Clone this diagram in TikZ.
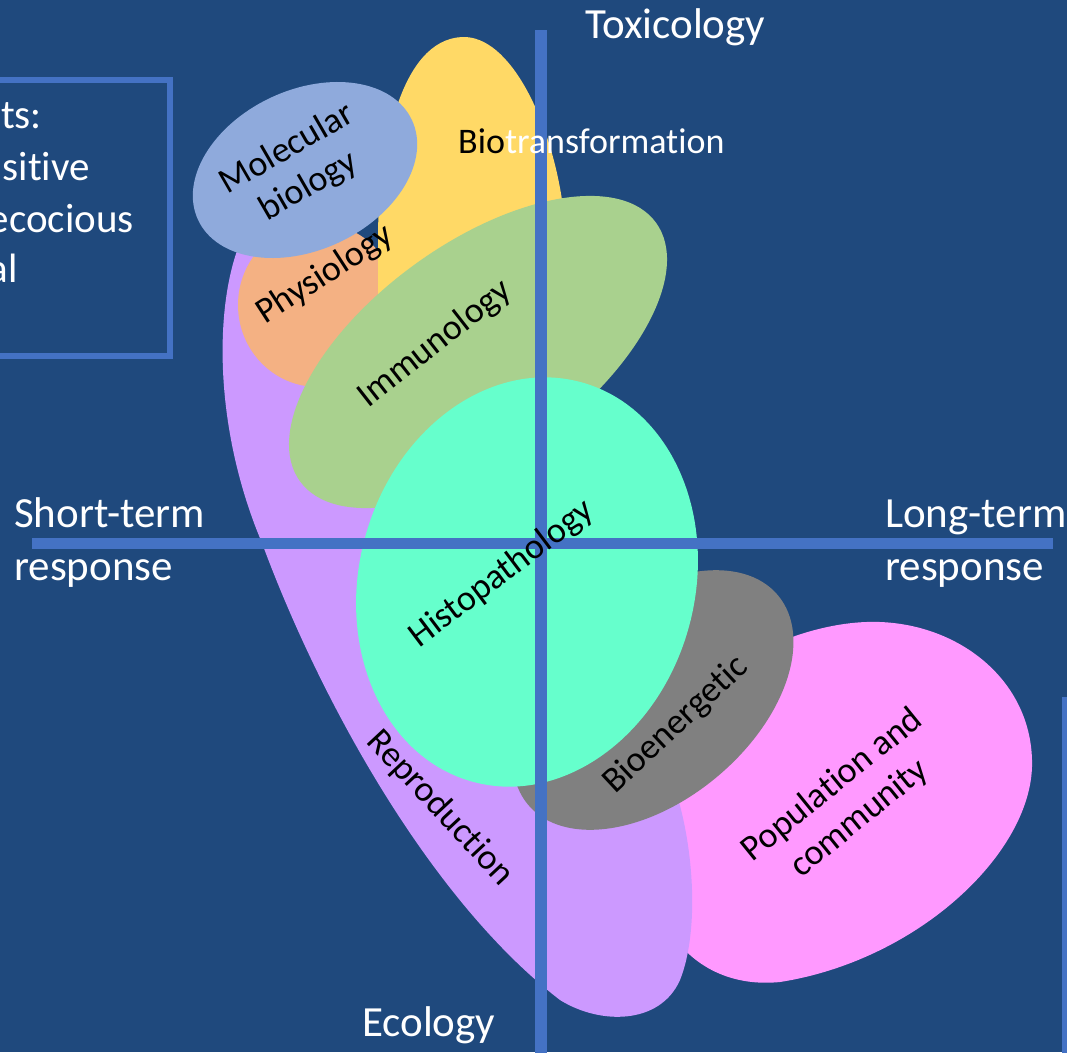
\documentclass[tikz,border=0pt]{standalone}
\usepackage{fontspec}
\setmainfont{Carlito}[Ligatures=CommonOff]
\definecolor{bg}{HTML}{1F497D}
\definecolor{axisblue}{HTML}{4472C4}
\definecolor{reprofill}{HTML}{CC99FF}
\definecolor{physfill}{HTML}{F4B183}
\definecolor{biotfill}{HTML}{FFD966}
\definecolor{molfill}{HTML}{8FAADC}
\definecolor{immfill}{HTML}{A9D18E}
\definecolor{histfill}{HTML}{66FFCC}
\definecolor{bioefill}{HTML}{808080}
\definecolor{popfill}{HTML}{FF99FF}
\begin{document}
\begin{tikzpicture}[x=1pt,y=-1pt,
  axisline/.style={draw=axisblue, line width=11.5pt},
  framebox/.style={draw=axisblue, line width=6pt},
  lbl/.style={font=\fontsize{36}{43}\selectfont, text=black, inner sep=0pt, align=center},
  axlbl/.style={font=\fontsize{43}{53}\selectfont, text=white, inner sep=0pt, anchor=base west},
  boxlbl/.style={font=\fontsize{41}{52}\selectfont, text=white, inner sep=0pt, anchor=base east},
]
\useasboundingbox (0,0) rectangle (1067,1052);
\fill[bg] (0,0) rectangle (1067,1052);
\begin{scope}
\clip (0,0) rectangle (1067,1052);

% side panels
\draw[framebox] (-60,80) rectangle (170,356);
\node[boxlbl] (bx1) at (42,128) {ts:};
\node[boxlbl] (bx2) at (90,180) {sitive};
\node[boxlbl] (bx3) at (134,232) {ecocious};
\node[boxlbl] (bx4) at (18,282) {al};
\draw[framebox] (1065,700) rectangle (1300,1120);

% population and community (lowest layer)
\fill[popfill] (700,690) .. controls (760,640) and (830,620) .. (880,622)
  .. controls (960,625) and (1030,680) .. (1032,760)
  .. controls (1035,850) and (920,960) .. (780,982)
  .. controls (700,990) and (650,930) .. (650,860)
  .. controls (650,780) and (670,720) .. (700,690) -- cycle;
% reproduction
\fill[reprofill] (245,232) .. controls (215,290) and (210,420) .. (262,543)
  .. controls (320,700) and (430,900) .. (560,1000)
  .. controls (600,1025) and (660,1025) .. (680,980)
  .. controls (700,930) and (694,840) .. (672,780)
  .. controls (600,600) and (420,330) .. (300,240)
  .. controls (280,220) and (260,215) .. (245,232) -- cycle;
% physiology
\fill[physfill] (318,305) ellipse (80 and 82);
% biotransformation
\fill[biotfill] (378,300) -- (378,230) .. controls (380,150) and (400,40) .. (462,37)
  .. controls (510,35) and (550,120) .. (562,200)
  .. controls (575,280) and (520,330) .. (450,330)
  .. controls (400,330) and (378,320) .. (378,300) -- cycle;
% molecular biology
\fill[molfill, rotate around={25:(305,170)}] (305,170) ellipse (118 and 80);
% immunology
\fill[immfill, rotate around={36:(478,352)}] (478,352) ellipse (220 and 108);
% bioenergetic
\fill[bioefill, rotate around={40:(653,700)}] (653,700) ellipse (163 and 100);
% histopathology
\fill[histfill, rotate around={-15:(527,582)}] (527,582) ellipse (168 and 207);

% axes
\coordinate (vtop) at (541,30);
\coordinate (vbot) at (541,1060);
\coordinate (hleft) at (32,543.5);
\coordinate (hright) at (1053,543.5);
\draw[axisline] (vtop) -- (vbot);
\draw[axisline] (hleft) -- (hright);

% axis labels
\node[axlbl] (tox) at (585,38) {Toxicology};
\node[axlbl] (eco) at (362,1036) {Ecology};
\node[axlbl] (st1) at (14,527) {Short-term};
\node[axlbl] (st2) at (14,580) {response};
\node[axlbl] (lt1) at (885,527) {Long-term};
\node[axlbl] (lt2) at (885,580) {response};

% region labels
\node[lbl, anchor=base west] (biot) at (458,153) {Bio\textcolor{white}{transformation}};
\node[lbl, rotate=30] (mol) at (298,168) {Molecular\\biology};
\node[lbl, rotate=33] (phys) at (325,275) {Physiology};
\node[lbl, rotate=38] (imm) at (435,344) {Immunology};
\node[lbl, rotate=37] (hist) at (502,574) {Histopathology};
\node[lbl, rotate=-47] (repro) at (440,808) {Reproduction};
\node[lbl, rotate=43] (bioe) at (676,725) {Bioenergetic};
\node[lbl, rotate=39] (pop) at (846,802) {Population and\\community};
\end{scope}
\end{tikzpicture}
\end{document}
